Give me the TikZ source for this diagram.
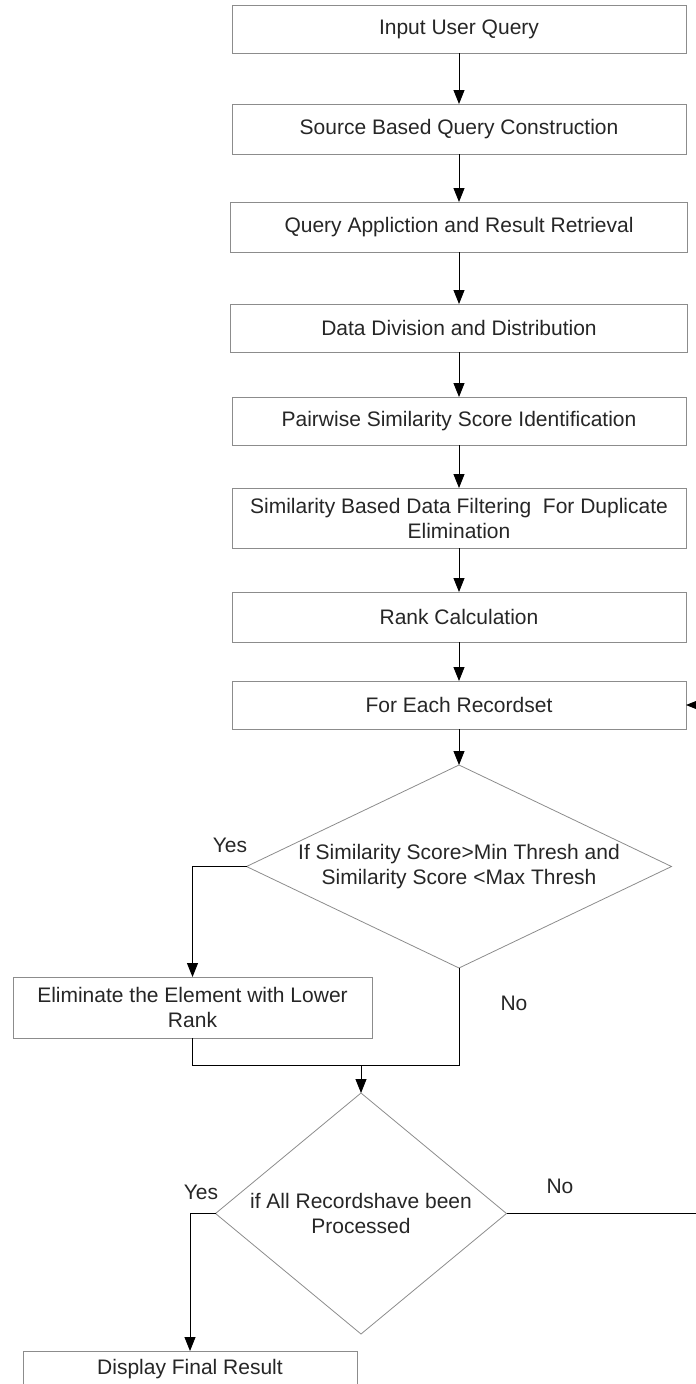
\documentclass[tikz,border=0pt]{standalone}
\usepackage{fontspec}
\setmainfont{Liberation Sans}
\usetikzlibrary{shapes.geometric,arrows.meta}
\tikzset{mybox/.style={draw=black!45,line width=.8pt,fill=white,minimum width=454pt,minimum height=48pt,inner sep=0pt,outer sep=0pt,align=center,font=\fontsize{21}{25}\selectfont,text=black!85}}
\tikzset{mydiamond/.style={diamond,draw=black!45,line width=.8pt,inner sep=0pt,outer sep=0pt}}
\tikzset{mytext/.style={align=center,font=\fontsize{21}{25}\selectfont,text=black!85}}
\tikzset{myline/.style={black,line width=.9pt}}
\tikzset{myarrow/.style={myline,-{Triangle[length=14pt,width=11pt]}}}

\begin{document}
\begin{tikzpicture}[x=1pt,y=-1pt]
	\useasboundingbox (0,0) rectangle (696,1384);
	\clip (0,0) rectangle (696,1384);

	\node[mybox] (input) at (459,29) {Input User Query};
	\node[mybox,minimum height=50pt] (source) at (459,129) {Source Based Query Construction};
	\node[mybox,minimum width=457pt,minimum height=50pt] (apply) at (459,227) {Query Appliction and Result Retrieval};
	\node[mybox,minimum width=457pt] (divide) at (459,328) {Data Division and Distribution};
	\node[mybox] (pairwise) at (459,421) {Pairwise Similarity Score Identification};
	\node[mybox,minimum height=60pt] (filter) at (459,518) {Similarity Based Data Filtering~ For Duplicate\\Elimination};
	\node[mybox,minimum height=50pt] (rank) at (459,617) {Rank Calculation};
	\node[mybox] (foreach) at (459,705) {For Each Recordset};

	% decisions (text set on top of empty diamonds)
	\node[mydiamond,minimum width=425pt,minimum height=203pt] (thresh) at (459,866.5) {};
	\node[mytext] (threshtext) at (thresh) {If Similarity Score>Min Thresh and\\Similarity Score <Max Thresh};
	\node[mybox,minimum width=359pt,minimum height=61pt] (elim) at (192.5,1007.5) {Eliminate the Element with Lower\\Rank};

	\node[mydiamond,minimum width=291pt,minimum height=241pt] (done) at (361,1213.5) {};
	\node[mytext] (donetext) at (done) {if All Recordshave been\\Processed};
	\node[mybox,minimum width=334pt,minimum height=36pt] (result) at (190,1369) {Display Final Result};

	\coordinate (join) at (361,1065);
	\coordinate (loop) at (700,1213.5);

	\draw[myarrow] (input) -- (source);
	\draw[myarrow] (source) -- (apply);
	\draw[myarrow] (apply) -- (divide);
	\draw[myarrow] (divide) -- (pairwise);
	\draw[myarrow] (pairwise) -- (filter);
	\draw[myarrow] (filter) -- (rank);
	\draw[myarrow] (rank) -- (foreach);
	\draw[myarrow] (foreach) -- (thresh.north);

	\draw[myarrow] (thresh.west) -| (elim.north);
	\draw[myline] (elim.south) |- (join);
	\draw[myline] (thresh.south) |- (join);
	\draw[myarrow] (join) -- (done.north);

	\draw[myarrow] (done.west) -| (result.north);
	\draw[myarrow] (done.east) -- (loop) |- (foreach.east);

	\node[mytext] (yes1) at (230,845) {Yes};
	\node[mytext] (no1) at (514,1003) {No};
	\node[mytext] (yes2) at (201,1192) {Yes};
	\node[mytext] (no2) at (560,1186) {No};
\end{tikzpicture}
\end{document}
